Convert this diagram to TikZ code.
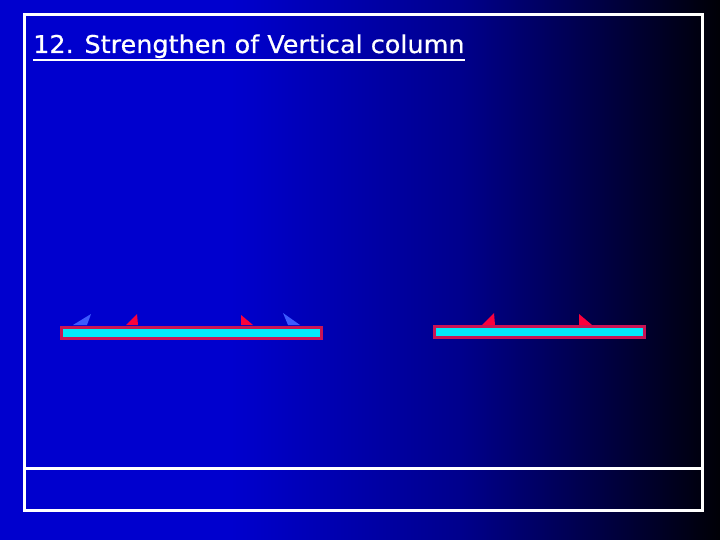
\documentclass[tikz,border=0pt]{standalone}
\usepackage{fontspec}
\setmainfont{DejaVu Sans}
\definecolor{bgblue}{RGB}{0,0,206}
\definecolor{bgmid}{RGB}{0,0,140}
\definecolor{bgdark}{RGB}{0,0,6}
\definecolor{beamfill}{RGB}{0,232,250}
\definecolor{beamedge}{RGB}{200,20,85}
\definecolor{wedgered}{RGB}{250,0,60}
\definecolor{wedgeblue}{RGB}{60,90,255}
\pgfdeclarehorizontalshading{bgshade}{100bp}{
  color(0bp)=(bgblue); color(25bp)=(bgblue); color(41bp)=(bgblue); color(57bp)=(bgmid); color(75bp)=(bgdark); color(100bp)=(bgdark)}
\tikzset{
  frame/.style={draw=white, line width=3pt},
  beam/.style={draw=beamedge, fill=beamfill, line width=2.5pt, inner sep=0pt, minimum height=11pt, anchor=north west},
  redwedge/.style={fill=wedgered, draw=none},
  bluewedge/.style={fill=wedgeblue, draw=none},
  titletext/.style={text=white, font=\fontsize{24.5}{28}\selectfont, inner sep=0pt, anchor=base west}
}
\begin{document}
\begin{tikzpicture}[x=1pt,y=-1pt]
\useasboundingbox (0,0) rectangle (720,540);
\shade[shading=bgshade] (0,0) rectangle (720,540);
% frame
\draw[frame] (24,15) rectangle (702,510);
\draw[frame] (24,468) -- (702,468);
% title
\node[titletext] (title) at (33,53) {\addfontfeature{FakeStretch=1.04, FakeBold=0.5}12. Strengthen of Vertical column};
\draw[white, line width=1.5pt] ([yshift=-7pt]title.base west) -- ([yshift=-7pt]title.base east);
% beams
\node[beam, minimum width=260pt] (beamA) at (60,326) {};
\node[beam, minimum width=210pt] (beamB) at (433,325) {};
% wedges on left beam
\fill[bluewedge] (73,325) -- (91,314) -- (87,325) -- cycle;
\fill[redwedge] (126,325) -- (137,314) -- (138,325) -- cycle;
\fill[redwedge] (241,315) -- (241,325) -- (253,325) -- cycle;
\fill[bluewedge] (283,313) -- (288,325) -- (300,325) -- cycle;
% wedges on right beam
\fill[redwedge] (482,325) -- (494,313) -- (495,325) -- cycle;
\fill[redwedge] (579,314) -- (579,325) -- (592,325) -- cycle;
\end{tikzpicture}
\end{document}
